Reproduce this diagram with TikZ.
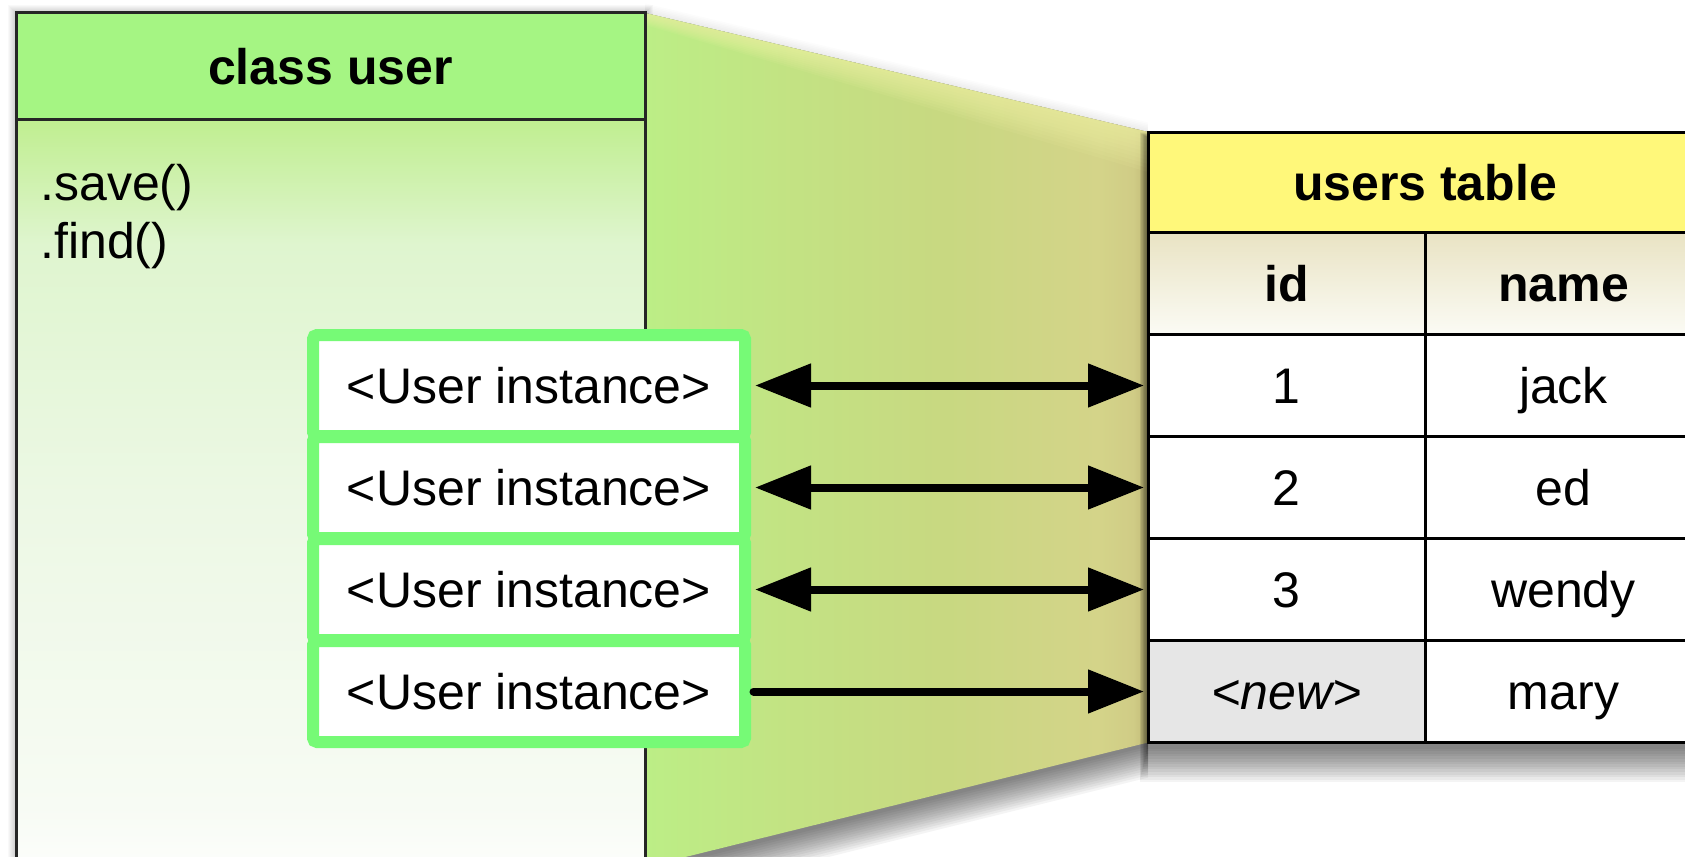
\documentclass[tikz,border=0pt]{standalone}
\usepackage{fontspec}
\setmainfont{Liberation Sans}
\usetikzlibrary{arrows.meta}

\definecolor{classhead}{HTML}{A5F583}
\definecolor{tablehead}{HTML}{FFF87A}
\definecolor{instgreen}{HTML}{76FA76}
\definecolor{newgray}{HTML}{E6E6E6}
\definecolor{framegray}{HTML}{262626}
\definecolor{hdtop}{HTML}{E9E3C3}
\definecolor{hdbot}{HTML}{FBFBF5}
\definecolor{glint}{HTML}{F4F6A8}
% class body gradient stops
\definecolor{cb0}{HTML}{C0EE90}
\definecolor{cb1}{HTML}{DFF5CF}
\definecolor{cb2}{HTML}{ECF8E4}
\definecolor{cb3}{HTML}{F7FBF4}
% projection gradient stops
\definecolor{pj0}{HTML}{BCEE86}
\definecolor{pj1}{HTML}{C3E283}
\definecolor{pj2}{HTML}{C8D881}
\definecolor{pj3}{HTML}{D4D489}
\definecolor{pj4}{HTML}{D0CC86}
\definecolor{pj5}{HTML}{C2BA78}

\pgfdeclareverticalshading{classbody}{100bp}{color(0bp)=(white); color(25bp)=(white);
  color(31bp)=(cb3); color(51bp)=(cb2); color(67bp)=(cb1); color(75bp)=(cb0); color(100bp)=(cb0)}
\pgfdeclarehorizontalshading{projection}{100bp}{color(0bp)=(pj0); color(25bp)=(pj0);
  color(40bp)=(pj1); color(55bp)=(pj2); color(70bp)=(pj3); color(73.5bp)=(pj4);
  color(75bp)=(pj5); color(100bp)=(pj5)}

\tikzset{
  txt/.style={font=\fontsize{25}{30}\selectfont},
  boldtxt/.style={font=\fontsize{25}{30}\selectfont\bfseries},
  instance/.style={draw=instgreen, line width=6pt, rounded corners=2pt, fill=white,
    minimum width=216pt, minimum height=50.5pt, inner sep=0pt,
    text height=18pt, text depth=0pt, txt},
  cell/.style={draw=black, line width=1.5pt, fill=white, minimum width=138.5pt,
    minimum height=51pt, inner sep=0pt, text height=18pt, text depth=0pt, txt},
  link/.style={line width=4pt, black},
  shadowlayer/.style={fill=black, opacity=#1},
}

\begin{document}
\begin{tikzpicture}[x=0.5pt, y=-0.5pt]
\useasboundingbox (0,0) rectangle (1685,856);
\clip (0,0) rectangle (1685,856);
\fill[white] (0,0) rectangle (1685,856);

% soft glow round the class box
\foreach \k in {1,...,8}
  \fill[shadowlayer=0.025] ({16-\k},{13-\k}) rectangle ({645+\k},900);

% projection band from the class to the table, with its soft shadow
\foreach \k in {1,...,6}
  \fill[shadowlayer=0.012] (645,{13-1.6*\k}) -- (1148,{132-1.6*\k}) -- (1148,742) -- (645,867) -- cycle;
\foreach \k in {1,...,14}
  \fill[shadowlayer=0.042] (645,13) -- (1148,132) -- (1148,{744+2.4*\k}) -- (645,{869+2.4*\k}) -- cycle;
\shade[shading=projection] (645,13) -- (1148,132) -- (1148,742.5) -- (645,867) -- cycle;
\foreach \d in {4,8,...,40}
  \fill[glint, opacity=0.09] (645,13) -- (1148,132) -- (1148,{132+\d}) -- (645,{13+0.3*\d}) -- cycle;

% class box
\fill[classhead] (16,13) rectangle (645,120);
\shade[shading=classbody] (16,120) rectangle (645,900);
\draw[framegray, line width=1.5pt] (16,13) rectangle (645,900) (16,120) -- (645,120);
\node[boldtxt, anchor=base] (classname) at (330.5,84) {class user};
\node[txt, anchor=base west, inner sep=0pt] (save) at (40,200) {.save()};
\node[txt, anchor=base west, inner sep=0pt] (find) at (40,258) {.find()};

% users table with its drop shadow
\foreach \k in {1,...,14}
  \fill[shadowlayer=0.042] ({1148-0.6*\k},{138-0.4*\k}) rectangle ({1702+0.6*\k},{746+2.6*\k});
\node[cell, minimum width=277pt, minimum height=50pt, fill=tablehead, boldtxt,
  text height=18pt] (ttitle) at (1425,182) {users table};
\node[cell, minimum height=51.25pt, top color=hdtop, bottom color=hdbot, boldtxt,
  text height=18pt] (hid) at (1286.5,283.25) {id};
\node[cell, minimum height=51.25pt, top color=hdtop, bottom color=hdbot, boldtxt,
  text height=18pt] (hname) at (1563.5,283.25) {name};
\node[cell] (id1) at (1286.5,385.5) {1};
\node[cell] (nm1) at (1563.5,385.5) {jack};
\node[cell] (id2) at (1286.5,487.5) {2};
\node[cell] (nm2) at (1563.5,487.5) {ed};
\node[cell] (id3) at (1286.5,589.5) {3};
\node[cell] (nm3) at (1563.5,589.5) {wendy};
\node[cell, fill=newgray] (id4) at (1286.5,691.5) {\itshape <new>};
\node[cell] (nm4) at (1563.5,691.5) {mary};

% user instances
\node[instance] (u1) at (529,385.5) {<User instance>};
\node[instance] (u2) at (529,487.5) {<User instance>};
\node[instance] (u3) at (529,589.5) {<User instance>};
\node[instance] (u4) at (529,691.5) {<User instance>};

% mappings between instances and rows
\foreach \i in {1,2,3}
  \draw[link, {Triangle[length=28pt,width=21pt]}-{Triangle[length=28pt,width=21pt]},
    shorten <=2pt, shorten >=1.25pt] (u\i.east) -- (id\i.west);
\draw[link, line cap=round, -{Triangle[length=28pt,width=21pt]},
  shorten <=1.25pt, shorten >=1.25pt] (u4.east) -- (id4.west);
\end{tikzpicture}
\end{document}
